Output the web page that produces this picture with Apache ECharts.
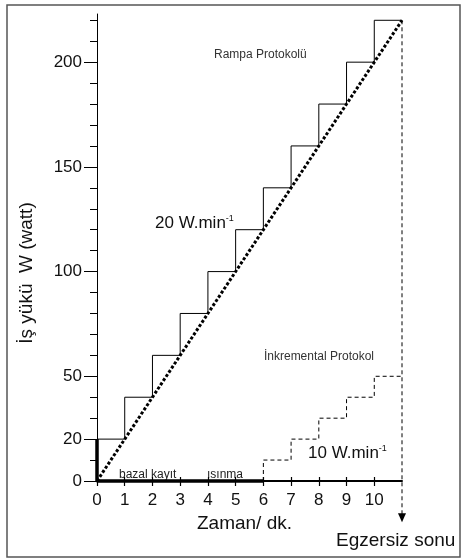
<!DOCTYPE html>
<html>
<head>
<meta charset="utf-8">
<script src="https://cdn.jsdelivr.net/npm/echarts@6/dist/echarts.min.js"></script>
<style>
  html, body { margin: 0; padding: 0; background: #fff; }
  #chart { width: 463px; height: 560px; }
</style>
</head>
<body>
<div id="chart"></div>
<script>
// rampa protokolü basamakları (dakika / watt)
const rampMin = [0, 1, 2, 3, 4, 5, 6, 7, 8, 9, 10, 11];
const rampWatt = [20, 40, 60, 80, 100, 120, 140, 160, 180, 200, 220, 220];
// 20 W/dk doğrusal artış
const slopeMin = [0, 11];
const slopeWatt = [0, 220];
// inkremental protokol
const incMin = [6, 7, 8, 9, 10, 11];
const incWatt = [0, 10, 20, 30, 40, 50];
// bazal kayıt + ısınma (0 W)
const baseMin = [0, 0, 6];
const baseWatt = [20, 0, 0];
// egzersiz sonu oku
const endMin = [11, 11];
const endWatt = [220, -17.5];

const xTicks = [0, 1, 2, 3, 4, 5, 6, 7, 8, 9, 10];
const yTicks = [0, 10, 20, 30, 40, 50, 60, 70, 80, 90, 100, 110, 120, 130, 140, 150, 160, 170, 180, 190, 200, 210, 220];
const yLabels = [0, 20, 50, 100, 150, 200];

const FONT = "'Liberation Sans', Arial, sans-serif";
const pairs = (xs, ys) => xs.map((x, i) => [x, ys[i]]);

const chart = echarts.init(document.getElementById('chart'));

const axisX = (extra) => Object.assign({
  type: 'value', min: 0, max: 11, position: 'bottom',
  splitLine: { show: false }
}, extra);
const axisY = (extra) => Object.assign({
  type: 'value', min: 0, max: 223, position: 'left',
  splitLine: { show: false }
}, extra);

chart.setOption({
  animation: false,
  backgroundColor: '#fff',
  textStyle: { fontFamily: FONT },
  grid: { left: 97, right: 61, top: 14, bottom: 79, containLabel: false },
  xAxis: [
    axisX({
      axisLine: { lineStyle: { color: '#000', width: 2 } },
      axisTick: { customValues: xTicks, length: 5, lineStyle: { color: '#000', width: 1.2 } },
      axisLabel: { customValues: xTicks, margin: 11, color: '#111', fontSize: 17, fontFamily: FONT },
      name: 'Zaman/ dk.',
      nameLocation: 'middle',
      nameGap: 28,
      nameTextStyle: { color: '#111', fontSize: 19, fontFamily: FONT, padding: [0, 10, 0, 0] }
    }),
    axisX({
      axisLine: { show: false },
      axisTick: { customValues: xTicks, inside: true, length: 4, lineStyle: { color: '#000', width: 1.2 } },
      axisLabel: { show: false }
    })
  ],
  yAxis: [
    axisY({
      axisLine: { lineStyle: { color: '#000', width: 1 } },
      axisTick: { customValues: yTicks, length: 7, lineStyle: { color: '#000' } },
      axisLabel: { show: false }
    }),
    axisY({
      axisLine: { show: false },
      axisTick: { customValues: yLabels, length: 13, lineStyle: { color: '#000' } },
      axisLabel: { customValues: yLabels, margin: 15, color: '#111', fontSize: 17, fontFamily: FONT }
    })
  ],
  graphic: [
    { type: 'rect', shape: { x: 7, y: 5, width: 453, height: 552 }, style: { fill: 'none', stroke: '#555', lineWidth: 1.5 }, silent: true },
    { type: 'text', x: 27, y: 273, rotation: Math.PI / 2,
      style: { text: 'İş yükü  W (watt)', font: '19px ' + FONT, fill: '#111', textAlign: 'center', textVerticalAlign: 'middle' } },
    { type: 'text', x: 214, y: 55,
      style: { text: 'Rampa Protokolü', font: '12px ' + FONT, fill: '#333', textVerticalAlign: 'middle' } },
    { type: 'text', x: 155, y: 223,
      style: { text: '{a|20 W.min}{s|-1}', fill: '#111', textVerticalAlign: 'middle',
        rich: { a: { fontSize: 17, fontFamily: FONT, fill: '#111' }, s: { fontSize: 9, fontFamily: FONT, fill: '#111', verticalAlign: 'top' } } } },
    { type: 'text', x: 374, y: 357,
      style: { text: 'İnkremental Protokol', font: '12px ' + FONT, fill: '#333', textAlign: 'right', textVerticalAlign: 'middle' } },
    { type: 'text', x: 308, y: 453,
      style: { text: '{a|10 W.min}{s|-1}', fill: '#111', textVerticalAlign: 'middle',
        rich: { a: { fontSize: 17, fontFamily: FONT, fill: '#111' }, s: { fontSize: 9, fontFamily: FONT, fill: '#111', verticalAlign: 'top' } } } },
    { type: 'text', x: 119, y: 475,
      style: { text: 'bazal kayıt', font: '12px ' + FONT, fill: '#222', textVerticalAlign: 'middle' } },
    { type: 'text', x: 207, y: 475,
      style: { text: 'ısınma', font: '12px ' + FONT, fill: '#222', textVerticalAlign: 'middle' } },
    { type: 'text', x: 336, y: 541,
      style: { text: 'Egzersiz sonu', font: '19px ' + FONT, fill: '#111', textVerticalAlign: 'middle' } }
  ],
  series: [
    {
      name: 'Rampa', type: 'line', step: 'end', clip: false,
      data: pairs(rampMin, rampWatt), showSymbol: false,
      lineStyle: { color: '#000', width: 1 }
    },
    {
      name: '20 W/dk', type: 'line', clip: false,
      data: pairs(slopeMin, slopeWatt), showSymbol: false,
      lineStyle: { color: '#000', width: 3, type: [3, 2] }
    },
    {
      name: 'İnkremental', type: 'line', step: 'start', clip: false,
      data: pairs(incMin, incWatt), showSymbol: false,
      lineStyle: { color: '#000', width: 1, type: [4, 3] }
    },
    {
      name: 'Bazal', type: 'line', clip: false,
      data: pairs(baseMin, baseWatt), showSymbol: false,
      lineStyle: { color: '#000', width: 3.5 }
    },
    {
      name: 'Egzersiz sonu', type: 'line', clip: false,
      data: pairs(endMin, endWatt).map((p, i) => i === endMin.length - 1
        ? { value: p, symbol: 'triangle', symbolRotate: 180, symbolSize: [8, 9], itemStyle: { color: '#000' } }
        : { value: p, symbol: 'none' }),
      showSymbol: true, showAllSymbol: true,
      lineStyle: { color: '#000', width: 1, type: [4, 3] }
    }
  ]
});
</script>
</body>
</html>
